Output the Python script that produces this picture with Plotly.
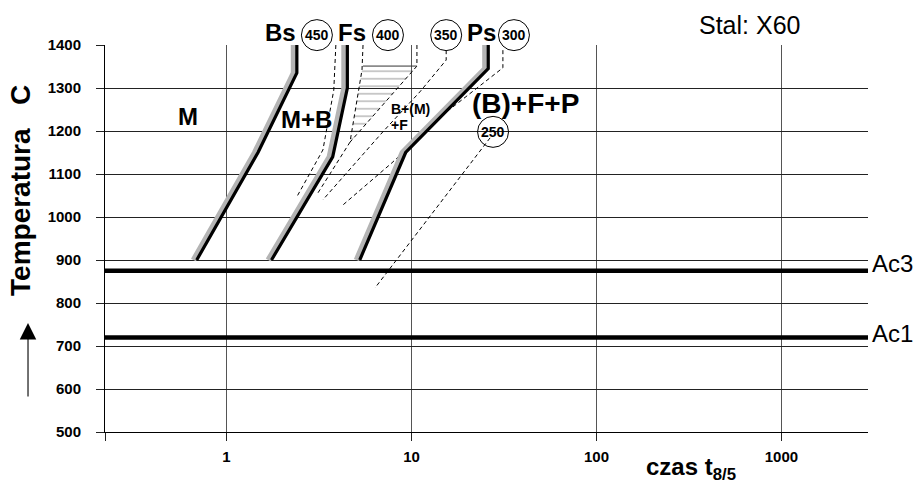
import math
import plotly.graph_objects as go

# ---------------- data ----------------
temp_ticks = [500, 600, 700, 800, 900, 1000, 1100, 1200, 1300, 1400]
time_ticks = [1, 10, 100, 1000]
time_tick_labels = ["1", "10", "100", "1000"]

bs_time = [2.4, 2.4, 1.48, 0.69]
bs_temp = [1400, 1335, 1150, 900]
fs_time = [4.5, 4.5, 3.75, 1.75]
fs_temp = [1400, 1300, 1140, 900]
ps_time = [26, 26, 9.3, 5.25]
ps_temp = [1400, 1345, 1150, 900]

ac3_temp = 875
ac1_temp = 720

d450_time = [3.9, 3.8, 3.32, 2.4]
d450_temp = [1400, 1295, 1156, 1047]
d400a_time = [5.47, 5.40, 4.65, 3.12]
d400a_temp = [1400, 1342, 1174, 1056]
d400b_time = [10.7, 10.7, 4.65]
d400b_temp = [1400, 1351, 1174]
d400top_time = [5.47, 10.7]
d400top_temp = [1351, 1351]
hatch_time = [5.40, 10.27, 4.65]
hatch_temp = [1342, 1342, 1174]
d350_time = [15.4, 15.4, 11.1, 7.0, 3.32]
d350_temp = [1388, 1365, 1291, 1198, 1040]
d300_time = [31.2, 31.2, 14.3, 7.84, 4.26]
d300_temp = [1388, 1347, 1233, 1126, 1028]
d250_time = [26.6, 6.35]
d250_temp = [1184, 835]

circle_labels = ["450", "400", "350", "300", "250"]
circle_time = [3.08, 7.46, 15.4, 35.8, 27.6]
circle_temp = [1423, 1423, 1423, 1423, 1198]

# ---------------- figure ----------------
FONT = "Liberation Sans, Arial, sans-serif"
GRAY_SHIFT = 10 ** (-3.3 / 185.0)   # shadow offset of the thick lines
X_RANGE = [-0.657, 3.468]
Y_RANGE = [500, 1400]


def xp(t):
    """data time -> paper x"""
    return (math.log10(t) - X_RANGE[0]) / (X_RANGE[1] - X_RANGE[0])


def yp(T):
    """data temperature -> paper y"""
    return (T - Y_RANGE[0]) / (Y_RANGE[1] - Y_RANGE[0])


fig = go.Figure()

# hatched region
fig.add_trace(go.Scatter(
    x=hatch_time, y=hatch_temp, fill="toself", mode="none",
    fillcolor="rgba(0,0,0,0)",
    fillpattern=dict(shape="-", size=7.5, solidity=0.14, fgcolor="#333",
                     bgcolor="rgba(0,0,0,0)"),
    hoverinfo="skip"))

dash_style = dict(color="black", width=1, dash="4px,3px")
for tx, ty in [(d450_time, d450_temp), (d400a_time, d400a_temp),
               (d400b_time, d400b_temp), (d350_time, d350_temp),
               (d300_time, d300_temp), (d250_time, d250_temp)]:
    fig.add_trace(go.Scatter(x=tx, y=ty, mode="lines", line=dash_style,
                             hoverinfo="skip"))
fig.add_trace(go.Scatter(x=d400top_time, y=d400top_temp, mode="lines",
                         line=dict(color="#333", width=1), hoverinfo="skip"))

# thick start lines with grey shadow
for tx, ty in [(bs_time, bs_temp), (fs_time, fs_temp), (ps_time, ps_temp)]:
    fig.add_trace(go.Scatter(x=[t * GRAY_SHIFT for t in tx], y=ty, mode="lines",
                             line=dict(color="#b4b4b4", width=5.5),
                             hoverinfo="skip"))
    fig.add_trace(go.Scatter(x=tx, y=ty, mode="lines",
                             line=dict(color="black", width=3.2),
                             hoverinfo="skip"))

shapes = [
    dict(type="line", xref="paper", x0=0, x1=1, yref="y", y0=ac3_temp, y1=ac3_temp,
         line=dict(color="black", width=4.5)),
    dict(type="line", xref="paper", x0=0, x1=1, yref="y", y0=ac1_temp, y1=ac1_temp,
         line=dict(color="black", width=4.5)),
]

ann = []


def add(text, x, y, size, xanchor="center", yanchor="middle", bold=True, angle=0):
    ann.append(dict(text=("<b>%s</b>" % text) if bold else text, x=x, y=y,
                    xref="paper", yref="paper", xanchor=xanchor, yanchor=yanchor,
                    showarrow=False, textangle=angle,
                    font=dict(family=FONT, size=size, color="black")))


# circled temperatures (shapes sized in pixels, anchored at data positions)
for lab, t, T in zip(circle_labels, circle_time, circle_temp):
    shapes.append(dict(type="circle", xref="paper", yref="paper",
                       xsizemode="pixel", ysizemode="pixel",
                       xanchor=xp(t), yanchor=yp(T), x0=-15.5, x1=15.5,
                       y0=-15.5, y1=15.5, line=dict(color="black", width=1)))
    add(lab, xp(t), yp(T), 14)

add("Bs", xp(1.97), yp(1430), 24)
add("Fs", xp(4.76), yp(1430), 24)
add("Ps", xp(24.0), yp(1430), 24)
add("M", xp(0.621), yp(1233), 24)
add("M+B", xp(2.69), yp(1226), 24)
add("B+(M)", xp(7.56), yp(1251), 14, xanchor="left")
add("+F", xp(7.56), yp(1214), 14, xanchor="left")
add("(B)+F+P", xp(20.7), yp(1263), 28, xanchor="left")
add("Stal: X60", 0.845, 1.052, 25, bold=False)
add("Ac3", 1.003, yp(891), 24, xanchor="left", bold=False)
add("Ac1", 1.003, yp(730), 24, xanchor="left", bold=False)
add("czas t<sub>8/5</sub>", 0.768, -0.095, 24)
add("Temperatura   C", -0.110, 0.623, 28, angle=-90)

ann.append(dict(x=-0.1009, y=0.2817, xref="paper", yref="paper", text="",
                showarrow=True, ax=0, ay=75, arrowhead=2, arrowsize=3,
                arrowwidth=1.1, arrowcolor="black", standoff=0))

fig.update_layout(
    width=920, height=484,
    margin=dict(l=105, r=52, t=45, b=52),
    plot_bgcolor="white", paper_bgcolor="white",
    showlegend=False,
    font=dict(family=FONT, color="black"),
    shapes=shapes, annotations=ann,
    xaxis=dict(type="log", range=X_RANGE,
               tickvals=[10 ** (X_RANGE[0] + 0.0005)] + time_ticks,
               ticktext=[""] + time_tick_labels,
               ticks="outside", ticklen=8, tickcolor="#222", tickwidth=1,
               showgrid=True, gridcolor="#555", gridwidth=1,
               showline=True, linecolor="black", linewidth=1, zeroline=False,
               tickfont=dict(family=FONT, size=15, color="black", weight="bold"),
               ticklabelstandoff=3),
    yaxis=dict(range=Y_RANGE, tickvals=temp_ticks,
               ticks="outside", ticklen=8, tickcolor="#222", tickwidth=1,
               showgrid=True, gridcolor="#222", gridwidth=1,
               showline=True, linecolor="black", linewidth=1, zeroline=False,
               tickfont=dict(family=FONT, size=15, color="black", weight="bold"),
               ticklabelstandoff=12),
)

fig.write_html("out.html")
